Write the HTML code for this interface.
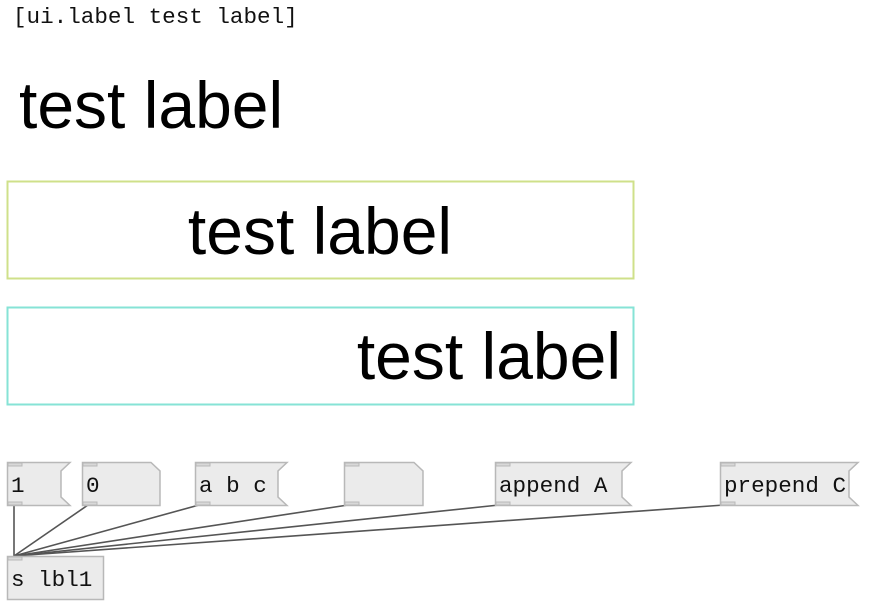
<!DOCTYPE html>
<html><head><style>
html,body{margin:0;padding:0;background:#fff;width:878px;height:606px;overflow:hidden}
svg text.m{font-family:"Liberation Mono",monospace;font-size:22.6px;fill:#111}
svg text.b{font-family:"Liberation Sans",sans-serif;font-size:66px;fill:#000}
</style></head><body>
<svg width="878" height="606" xmlns="http://www.w3.org/2000/svg">
<text class="m" x="13" y="23">[ui.label test label]</text>
<text class="b" x="19" y="128">test label</text>
<rect x="7.5" y="181.5" width="626" height="97" fill="none" stroke="#cfe08a" stroke-width="2"/>
<text class="b" x="320" y="254" text-anchor="middle">test label</text>
<rect x="7.5" y="307.5" width="626" height="97" fill="none" stroke="#86e3d6" stroke-width="2"/>
<text class="b" x="621" y="379" text-anchor="end">test label</text>
<g stroke="#555" stroke-width="1.6">
<line x1="14" y1="505" x2="14" y2="556"/>
<line x1="88" y1="505" x2="14" y2="556"/>
<line x1="199" y1="505" x2="14" y2="556"/>
<line x1="348" y1="505" x2="14" y2="556"/>
<line x1="499" y1="505" x2="14" y2="556"/>
<line x1="724" y1="505" x2="14" y2="556"/>
</g>
<g fill="#ebebeb" stroke="#b8b8b8" stroke-width="1.5">
<polygon points="7.5,462.5 70,462.5 61,471 61,497 70,505.5 7.5,505.5"/>
<polygon points="82.5,462.5 151,462.5 160,471 160,505.5 82.5,505.5"/>
<polygon points="195.5,462.5 287,462.5 278,471 278,497 287,505.5 195.5,505.5"/>
<polygon points="344.5,462.5 414,462.5 423,471 423,505.5 344.5,505.5"/>
<polygon points="495.5,462.5 631,462.5 622,471 622,497 631,505.5 495.5,505.5"/>
<polygon points="720.5,462.5 858,462.5 849,471 849,497 858,505.5 720.5,505.5"/>
<rect x="7.5" y="556.5" width="96" height="43"/>
</g>
<g fill="#d8d8d8" stroke="#b8b8b8" stroke-width="1">
<rect x="8" y="463" width="14" height="3"/><rect x="8" y="502" width="14" height="3"/>
<rect x="83" y="463" width="14" height="3"/><rect x="83" y="502" width="14" height="3"/>
<rect x="196" y="463" width="14" height="3"/><rect x="196" y="502" width="14" height="3"/>
<rect x="345" y="463" width="14" height="3"/><rect x="345" y="502" width="14" height="3"/>
<rect x="496" y="463" width="14" height="3"/><rect x="496" y="502" width="14" height="3"/>
<rect x="721" y="463" width="14" height="3"/><rect x="721" y="502" width="14" height="3"/>
<rect x="8" y="557" width="14" height="3"/>
</g>
<text class="m" x="11" y="492">1</text>
<text class="m" x="86" y="492">0</text>
<text class="m" x="199" y="492">a b c</text>
<text class="m" x="499" y="492">append A</text>
<text class="m" x="724" y="492">prepend C</text>
<text class="m" x="11" y="586">s lbl1</text>
</svg>
</body></html>
